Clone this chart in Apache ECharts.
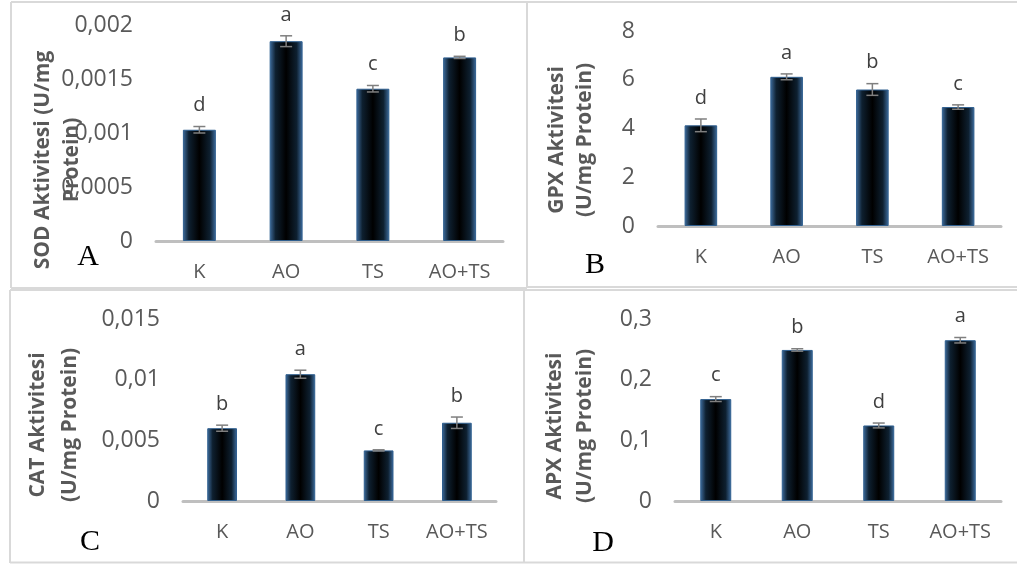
<!DOCTYPE html>
<html>
<head>
<meta charset="utf-8">
<script src="https://cdn.jsdelivr.net/npm/echarts@6/dist/echarts.min.js"></script>
<style>
html,body{margin:0;padding:0;background:#fff;}
#chart{width:1017px;height:564px;}
</style>
</head>
<body>
<div id="chart"></div>
<script>
const categories = ['K', 'AO', 'TS', 'AO+TS'];

const sodMean = [0.00103, 0.00185, 0.00141, 0.00170];
const sodErr = [0.00003, 0.00005, 0.00003, 0.00001];
const sodSig = ['d', 'a', 'c', 'b'];

const gpxMean = [4.13, 6.12, 5.60, 4.88];
const gpxErr = [0.26, 0.12, 0.24, 0.09];
const gpxSig = ['d', 'a', 'b', 'c'];

const catMean = [0.0060, 0.01045, 0.00417, 0.00645];
const catErr = [0.00025, 0.00033, 0.00005, 0.00047];
const catSig = ['b', 'a', 'c', 'b'];

const apxMean = [0.168, 0.249, 0.1245, 0.265];
const apxErr = [0.004, 0.002, 0.004, 0.0045];
const apxSig = ['c', 'b', 'd', 'a'];

const yTitles = ['SOD Aktivitesi (U/mg\nProtein)', 'GPX Aktivitesi\n(U/mg Protein)', 'CAT Aktivitesi\n(U/mg Protein)', 'APX Aktivitesi\n(U/mg Protein)'];
const yMax = [0.002, 8, 0.015, 0.3];
const yInterval = [0.0005, 2, 0.005, 0.1];
const panelLetters = ['A', 'B', 'C', 'D'];

const panels = [
  {mean: sodMean, err: sodErr, sig: sodSig},
  {mean: gpxMean, err: gpxErr, sig: gpxSig},
  {mean: catMean, err: catErr, sig: catSig},
  {mean: apxMean, err: apxErr, sig: apxSig}
];

const grids = [
  {left: 156, right: 514, top: 25, bottom: 323},
  {left: 658, right: 16, top: 31, bottom: 338},
  {left: 183, right: 521, top: 319, bottom: 63},
  {left: 675, right: 16, top: 319, bottom: 63}
];
const titlePos = [[58, 160, 29], [571, 140, 28], [54, 425, 32], [570, 426, 30]];
const letterPos = [[88, 257], [595, 265], [90, 542], [603, 543]];

const FONT = '"Open Sans", "DejaVu Sans", sans-serif';
const barGrad = {
  type: 'linear', x: 0, y: 0, x2: 1, y2: 0,
  colorStops: [
    {offset: 0, color: '#3f6d9e'},
    {offset: 0.18, color: '#0e2030'},
    {offset: 0.5, color: '#000000'},
    {offset: 0.82, color: '#0e2030'},
    {offset: 1, color: '#3f6d9e'}
  ]
};

function fmt(v) {
  return String(Number(v.toPrecision(10))).replace('.', ',');
}

const xAxis = [], yAxis = [], series = [];
panels.forEach((p, i) => {
  xAxis.push({
    type: 'category', gridIndex: i, data: categories,
    axisLine: {lineStyle: {color: '#bfbfbf', width: 3}},
    axisTick: {show: false},
    axisLabel: {color: '#595959', fontSize: 20, fontFamily: FONT, margin: 21, interval: 0}
  });
  yAxis.push({
    type: 'value', gridIndex: i, min: 0, max: yMax[i], interval: yInterval[i],
    splitLine: {show: false},
    axisLine: {show: false},
    axisTick: {show: false},
    axisLabel: {color: '#595959', fontSize: 23, fontFamily: FONT, margin: 23, formatter: fmt}
  });
  series.push({
    type: 'bar', xAxisIndex: i, yAxisIndex: i, data: p.mean, barWidth: '38%',
    itemStyle: {color: barGrad, borderColor: '#2f5f8f', borderWidth: 1},
    silent: true
  });
  series.push({
    type: 'custom', xAxisIndex: i, yAxisIndex: i,
    data: p.mean.map((m, k) => [k, m, p.err[k]]),
    z: 10, silent: true,
    renderItem: function (params, api) {
      const x = api.value(0), m = api.value(1), e = api.value(2);
      const top = api.coord([x, m + e]);
      const bot = api.coord([x, m - e]);
      const cx = top[0];
      const st = {stroke: '#7f7f7f', lineWidth: 1.5};
      return {
        type: 'group',
        children: [
          {type: 'line', shape: {x1: cx, y1: top[1], x2: cx, y2: bot[1]}, style: st},
          {type: 'line', shape: {x1: cx - 6, y1: top[1], x2: cx + 6, y2: top[1]}, style: st},
          {type: 'line', shape: {x1: cx - 6, y1: bot[1], x2: cx + 6, y2: bot[1]}, style: st},
          {type: 'text', style: {text: p.sig[params.dataIndex], x: cx, y: top[1] - 21,
            textAlign: 'center', textVerticalAlign: 'middle', fill: '#404040', fontSize: 20, fontFamily: FONT}}
        ]
      };
    }
  });
});

const B = '#d9d9d9';
function ln(x1, y1, x2, y2) {
  return {type: 'line', shape: {x1, y1, x2, y2}, style: {stroke: B, lineWidth: 2}, silent: true};
}
const graphic = [
  ln(11, 2, 1017, 2),
  ln(11, 2, 11, 288),
  ln(527, 2, 527, 288),
  ln(11, 288, 527, 288),
  ln(527, 287, 1017, 287),
  ln(10, 290, 1017, 290),
  ln(10, 290, 10, 563),
  ln(524, 290, 524, 563),
  ln(10, 562.5, 1017, 562.5)
];
yTitles.forEach((t, i) => {
  graphic.push({type: 'text', x: titlePos[i][0], y: titlePos[i][1], rotation: Math.PI / 2, silent: true, z: 5,
    style: {text: t, fontSize: 21, fontWeight: 'bold', fontFamily: FONT, fill: '#595959',
      lineHeight: titlePos[i][2], textAlign: 'center', textVerticalAlign: 'middle'}});
});
panelLetters.forEach((t, i) => {
  graphic.push({type: 'text', x: letterPos[i][0], y: letterPos[i][1], silent: true,
    style: {text: t, fontSize: 30, fontFamily: '"Liberation Serif", "DejaVu Serif", serif',
      fill: '#000', textAlign: 'center', textVerticalAlign: 'middle'}});
});

const chart = echarts.init(document.getElementById('chart'), null, {renderer: 'canvas'});
chart.setOption({
  animation: false,
  backgroundColor: '#ffffff',
  grid: grids,
  xAxis: xAxis,
  yAxis: yAxis,
  series: series,
  graphic: graphic
});
</script>
</body>
</html>
